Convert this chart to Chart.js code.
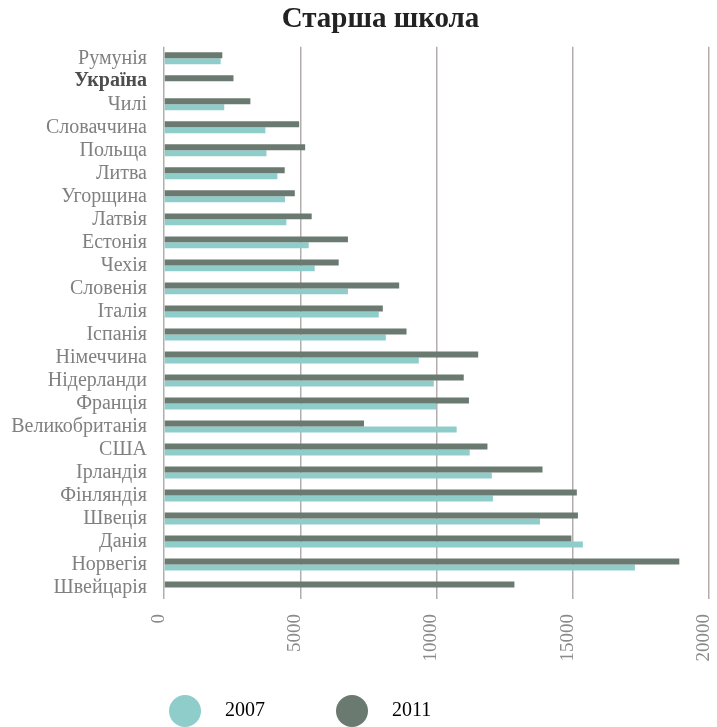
<!DOCTYPE html>
<html>
<head>
<meta charset="utf-8">
<script src="https://cdn.jsdelivr.net/npm/chart.js@4"></script>
<style>
  html, body { margin: 0; padding: 0; background: #fff; }
  #wrap { width: 717px; height: 727px; position: relative; }
</style>
</head>
<body>
<div id="wrap"><canvas id="chart"></canvas></div>
<script>
// Countries, top to bottom
const categories = [
  'Румунія', 'Україна', 'Чилі', 'Словаччина', 'Польща', 'Литва', 'Угорщина',
  'Латвія', 'Естонія', 'Чехія', 'Словенія', 'Італія', 'Іспанія', 'Німеччина',
  'Нідерланди', 'Франція', 'Великобританія', 'США', 'Ірландія', 'Фінляндія',
  'Швеція', 'Данія', 'Норвегія', 'Швейцарія'
];

const values2007 = [
  2080, null, 2210, 3720, 3760, 4160, 4440,
  4490, 5310, 5530, 6750, 7880, 8140, 9350,
  9900, 9990, 10740, 11220, 12030, 12070,
  13800, 15370, 17280, null
];

const values2011 = [
  2140, 2550, 3170, 4960, 5180, 4430, 4800,
  5420, 6750, 6410, 8630, 8030, 8900, 11530,
  11000, 11190, 7340, 11870, 13890, 15150,
  15190, 14950, 18910, 12860
];

const seriesNames = ['2007', '2011'];
const xTicks = [0, 5000, 10000, 15000, 20000];
const highlighted = 'Україна';

const SERIF = "'Liberation Serif', 'Times New Roman', serif";
const TEAL = '#8fcdcb';
const SLATE = '#6b7a71';

// Round legend marker, drawn 12.5px right of the image centre
function dot(color) {
  const c = document.createElement('canvas');
  c.width = 57; c.height = 32;
  const g = c.getContext('2d');
  g.fillStyle = color;
  g.beginPath();
  g.arc(41, 16, 16, 0, Math.PI * 2);
  g.fill();
  return c;
}

// Moves the title and legend blocks by fixed offsets after layout
const blockShift = {
  id: 'blockShift',
  afterLayout(chart, args, opts) {
    const move = (box, d) => {
      if (!box || !d) return;
      box.left += d.x; box.right += d.x;
      box.top += d.y; box.bottom += d.y;
    };
    move(chart.titleBlock, opts.title);
    move(chart.legend, opts.legend);
  }
};

new Chart(document.getElementById('chart'), {
  type: 'bar',
  data: {
    labels: categories,
    datasets: [
      { label: seriesNames[1], data: values2011, backgroundColor: SLATE },
      { label: seriesNames[0], data: values2007, backgroundColor: TEAL }
    ]
  },
  options: {
    indexAxis: 'y',
    responsive: true,
    maintainAspectRatio: false,
    animation: false,
    layout: { padding: 0 },
    datasets: { bar: { categoryPercentage: 0.52, barPercentage: 1 } },
    scales: {
      x: {
        min: 0,
        max: 20000,
        afterBuildTicks: axis => { axis.ticks = xTicks.map(v => ({ value: v })); },
        afterFit: axis => {
          axis.height = 66;
          axis.paddingRight = 8;
        },
        grid: { color: '#b3adad', lineWidth: 1.5, drawTicks: false },
        border: { display: false },
        ticks: {
          autoSkip: false,
          minRotation: 90,
          maxRotation: 90,
          padding: 15,
          labelOffset: -5,
          color: '#8a8a8a',
          font: { family: SERIF, size: 19 },
          callback: value => String(value)
        }
      },
      y: {
        afterFit: axis => { axis.width = 164; },
        grid: { display: false, drawTicks: false },
        border: { display: false },
        ticks: {
          autoSkip: false,
          padding: 17,
          color: c => categories[c.index] === highlighted ? '#4d4d4d' : '#808080',
          font: c => ({
            family: SERIF,
            size: 20,
            weight: categories[c.index] === highlighted ? 'bold' : 'normal'
          })
        }
      }
    },
    plugins: {
      title: {
        display: true,
        text: 'Старша школа',
        color: '#222',
        font: { family: SERIF, size: 29, weight: 'bold' },
        padding: { top: 2, bottom: 10 }
      },
      legend: {
        position: 'bottom',
        align: 'start',
        labels: {
          usePointStyle: true,
          pointStyleWidth: 85,
          padding: 32,
          color: '#808080',
          font: { family: SERIF, size: 20 },
          generateLabels: chart => chart.data.datasets
            .map((ds, i) => ({
              text: ds.label,
              fillStyle: ds.backgroundColor,
              strokeStyle: ds.backgroundColor,
              lineWidth: 0,
              pointStyle: dot(ds.backgroundColor),
              hidden: false,
              datasetIndex: i
            }))
            .reverse()
        }
      },
      blockShift: { title: { x: 22, y: 0 }, legend: { x: 98, y: 4 } },
      tooltip: { enabled: false }
    }
  },
  plugins: [blockShift]
});
</script>
</body>
</html>
